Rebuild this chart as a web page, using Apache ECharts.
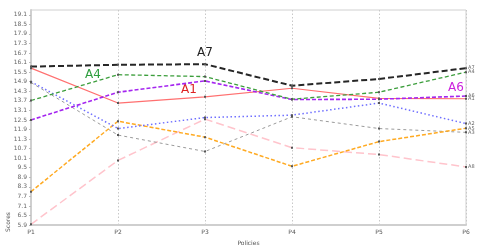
<!DOCTYPE html>
<html><head><meta charset="utf-8">
<script src="https://cdn.jsdelivr.net/npm/echarts@6/dist/echarts.min.js"></script>
<style>html,body{margin:0;padding:0;background:#fff}#c{width:480px;height:251px}</style>
</head><body><div id="c"></div>
<script>
const categories = ['P1','P2','P3','P4','P5','P6'];
const A1 = [15.75, 13.56, 13.95, 14.49, 13.85, 13.83];
const A2 = [14.90, 11.96, 12.65, 12.80, 13.56, 12.27];
const A3 = [14.85, 11.55, 10.52, 12.70, 11.96, 11.72];
const A4 = [13.72, 15.34, 15.22, 13.80, 14.24, 15.50];
const A5 = [8.00, 12.42, 11.42, 9.59, 11.14, 11.98];
const A6 = [12.50, 14.24, 14.95, 13.78, 13.80, 14.00];
const A7 = [15.85, 15.96, 16.00, 14.65, 15.07, 15.75];
const A8 = [5.95, 9.96, 12.55, 10.76, 10.33, 9.55];
const yBase = 5.9, yStep = 0.6, yTop = 19.4;

const seriesDefs = [
  {name:'A8', data:A8, color:'#ffc4cc', width:1.5, dash:[8,4]},
  {name:'A3', data:A3, color:'#9a9a9a', width:1, dash:[3,3]},
  {name:'A5', data:A5, color:'#ffaa22', width:1.5, dash:[4,2]},
  {name:'A2', data:A2, color:'#6f6fff', width:1.5, dash:[1.5,2.5]},
  {name:'A1', data:A1, color:'#ff7070', width:1.2, dash:'solid'},
  {name:'A6', data:A6, color:'#a526f0', width:1.6, dash:[4,2]},
  {name:'A4', data:A4, color:'#3c9e3c', width:1.3, dash:[4,2.5]},
  {name:'A7', data:A7, color:'#262626', width:2, dash:[6,3]}
];

const chart = echarts.init(document.getElementById('c'), null, {renderer:'canvas'});
chart.setOption({
  animation:false,
  grid:{left:31, right:14, top:10, bottom:23, show:true, borderColor:'#d0d0d0', borderWidth:1},
  xAxis:{
    type:'category', data:categories, boundaryGap:false,
    name:'Policies', nameLocation:'middle', nameGap:12,
    nameTextStyle:{fontSize:6, color:'#555', fontFamily:'DejaVu Sans'},
    axisLine:{lineStyle:{color:'#cfcfcf', width:2}},
    axisTick:{show:false},
    axisLabel:{fontSize:6, color:'#555', margin:4, fontFamily:'DejaVu Sans'},
    splitLine:{show:true, lineStyle:{color:'#c8c8c8', type:[1.5,2], width:1}}
  },
  yAxis:{
    type:'value', min:0, max:yTop - yBase, interval:yStep,
    axisLine:{show:true, lineStyle:{color:'#cfcfcf', width:2}},
    axisTick:{show:true, length:2, lineStyle:{color:'#bbb'}},
    axisLabel:{fontSize:6, color:'#666', margin:4, showMaxLabel:false, fontFamily:'DejaVu Sans',
      formatter: v => (v > 13.21) ? '' : (v + yBase).toFixed(1)},
    splitLine:{show:false}
  },
  series: seriesDefs.map(s => ({
    name:s.name, type:'line', data:s.data.map(v => +(v - yBase).toFixed(4)),
    symbol:'rect', symbolSize:2, showSymbol:true,
    itemStyle:{color:'#555'},
    lineStyle:{color:s.color, width:s.width, type:s.dash},
    endLabel:{show:true, formatter:s.name, fontSize:5, color:'#666', distance:2, fontFamily:'DejaVu Sans'},
    emphasis:{disabled:true}
  })),
  graphic:[
    {type:'text', x:8, y:222, rotation:Math.PI/2,
      style:{text:'Scores', fontSize:6, fill:'#555', fontFamily:'DejaVu Sans', align:'center', verticalAlign:'middle'}},
    {type:'text', left:197, top:47, style:{text:'A7', fontSize:12, fill:'#222', fontFamily:'DejaVu Sans'}},
    {type:'text', left:85, top:69, style:{text:'A4', fontSize:12, fill:'#2e9e3e', fontFamily:'DejaVu Sans'}},
    {type:'text', left:181, top:84, style:{text:'A1', fontSize:12, fill:'#dd2222', fontFamily:'DejaVu Sans'}},
    {type:'text', left:448, top:82, style:{text:'A6', fontSize:12, fill:'#cc22dd', fontFamily:'DejaVu Sans'}}
  ]
});
</script></body></html>
